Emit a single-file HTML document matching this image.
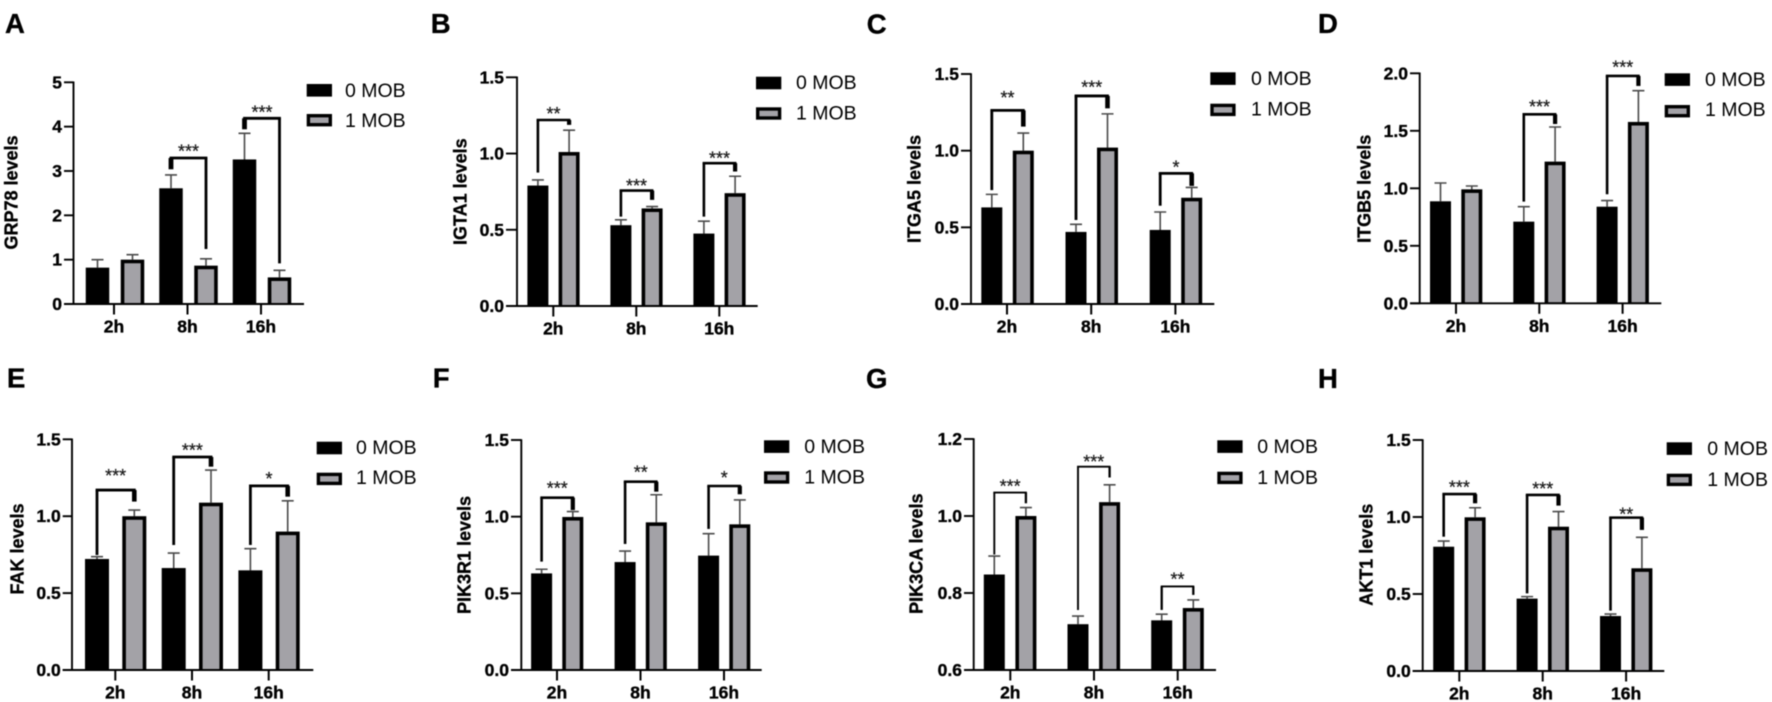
<!DOCTYPE html>
<html lang="en">
<head>
<meta charset="utf-8">
<title>MOB expression levels</title>
<style>
html,body{margin:0;padding:0;background:#fff;}
svg{display:block;filter:blur(0.45px);}
text{font-family:"Liberation Sans",Arial,sans-serif;fill:#000;}
text[font-weight="bold"]{stroke:#000;stroke-width:0.35px;}
text.stars{fill:#1c1c1c;stroke:#1c1c1c;stroke-width:0.25px;}
</style>
</head>
<body>
<svg id="figure" xmlns="http://www.w3.org/2000/svg" width="1772" height="702" viewBox="0 0 1772 702"></svg>
<script>
const categories = ['2h', '8h', '16h'];
const seriesNames = ['0 MOB', '1 MOB'];

const grp78Ticks = ['0', '1', '2', '3', '4', '5'];
const grp78Control = [0.82, 2.61, 3.26];
const grp78Treated = [1.0, 0.865, 0.60];
const grp78ControlErr = [1.0, 2.91, 3.85];
const grp78TreatedErr = [1.113, 1.02, 0.76];
const grp78BracketTop = [null, 3.293, 4.188];
const grp78BracketLeft = [null, 3.038, 3.94];
const grp78BracketRight = [null, 1.24, 0.917];
const grp78StarLevel = [null, 3.496, 4.376];
const grp78Stars = ['', '***', '***'];

const igta1Ticks = ['0.0', '0.5', '1.0', '1.5'];
const igta1Control = [0.79, 0.53, 0.475];
const igta1Treated = [1.01, 0.64, 0.74];
const igta1ControlErr = [0.827, 0.565, 0.556];
const igta1TreatedErr = [1.153, 0.652, 0.851];
const igta1BracketTop = [1.22, 0.757, 0.937];
const igta1BracketLeft = [0.875, 0.586, 0.586];
const igta1BracketRight = [1.188, 0.696, 0.882];
const igta1StarLevel = [1.275, 0.805, 0.983];
const igta1Stars = ['**', '***', '***'];

const itga5Ticks = ['0.0', '0.5', '1.0', '1.5'];
const itga5Control = [0.63, 0.47, 0.483];
const itga5Treated = [1.0, 1.02, 0.693];
const itga5ControlErr = [0.715, 0.52, 0.60];
const itga5TreatedErr = [1.115, 1.24, 0.76];
const itga5BracketTop = [1.263, 1.357, 0.852];
const itga5BracketLeft = [0.743, 0.548, 0.641];
const itga5BracketRight = [1.157, 1.276, 0.77];
const itga5StarLevel = [1.36, 1.428, 0.907];
const itga5Stars = ['**', '***', '*'];

const itgb5Ticks = ['0.0', '0.5', '1.0', '1.5', '2.0'];
const itgb5Control = [0.887, 0.71, 0.84];
const itgb5Treated = [0.991, 1.232, 1.577];
const itgb5ControlErr = [1.046, 0.84, 0.893];
const itgb5TreatedErr = [1.02, 1.533, 1.849];
const itgb5BracketTop = [null, 1.643, 1.977];
const itgb5BracketLeft = [null, 0.884, 0.948];
const itgb5BracketRight = [null, 1.559, 1.89];
const itgb5StarLevel = [null, 1.728, 2.072];
const itgb5Stars = ['', '***', '***'];

const fakTicks = ['0.0', '0.5', '1.0', '1.5'];
const fakControl = [0.722, 0.663, 0.648];
const fakTreated = [1.0, 1.088, 0.9];
const fakControlErr = [0.737, 0.76, 0.789];
const fakTreatedErr = [1.04, 1.30, 1.10];
const fakBracketTop = [1.17, 1.385, 1.197];
const fakBracketLeft = [0.748, 0.813, 0.813];
const fakBracketRight = [1.095, 1.322, 1.127];
const fakStarLevel = [1.279, 1.442, 1.257];
const fakStars = ['***', '***', '*'];

const pik3r1Ticks = ['0.0', '0.5', '1.0', '1.5'];
const pik3r1Control = [0.63, 0.704, 0.746];
const pik3r1Treated = [0.998, 0.963, 0.95];
const pik3r1ControlErr = [0.657, 0.776, 0.889];
const pik3r1TreatedErr = [1.033, 1.143, 1.109];
const pik3r1BracketTop = [1.124, 1.228, 1.2];
const pik3r1BracketLeft = [0.707, 0.822, 0.92];
const pik3r1BracketRight = [1.043, 1.163, 1.146];
const pik3r1StarLevel = [1.2, 1.304, 1.267];
const pik3r1Stars = ['***', '**', '*'];

const pik3caTicks = ['0.6', '0.8', '1.0', '1.2'];
const pik3caControl = [0.848, 0.719, 0.729];
const pik3caTreated = [1.0, 1.036, 0.761];
const pik3caControlErr = [0.896, 0.74, 0.745];
const pik3caTreatedErr = [1.022, 1.081, 0.782];
const pik3caBracketTop = [1.061, 1.128, 0.817];
const pik3caBracketLeft = [0.90, 0.756, 0.756];
const pik3caBracketRight = [1.033, 1.10, 0.795];
const pik3caStarLevel = [1.083, 1.147, 0.842];
const pik3caStars = ['***', '***', '**'];

const akt1Ticks = ['0.0', '0.5', '1.0', '1.5'];
const akt1Control = [0.807, 0.47, 0.357];
const akt1Treated = [0.998, 0.937, 0.667];
const akt1ControlErr = [0.844, 0.483, 0.37];
const akt1TreatedErr = [1.06, 1.035, 0.868];
const akt1BracketTop = [1.149, 1.143, 0.996];
const akt1BracketLeft = [0.872, 0.504, 0.392];
const akt1BracketRight = [1.089, 1.074, 0.916];
const akt1StarLevel = [1.208, 1.197, 1.032];
const akt1Stars = ['***', '***', '**'];

const panels = [
  {letter:'A', title:'GRP78 levels', key:'grp78', ticks:grp78Ticks, control:grp78Control, treated:grp78Treated, controlErr:grp78ControlErr, treatedErr:grp78TreatedErr, top:grp78BracketTop, left:grp78BracketLeft, right:grp78BracketRight, star:grp78StarLevel, stars:grp78Stars,
    lx:5, ly:33, ax:73.5, yT:82.3, yB:304, tickL:64, xEnd:304, cat0:114, step:73.5, off0:-16.5, off1:18.5, bw:23.5, bs:2.8, lb:2, tx:17.3, ty:192.5, sw:306.7, sy0:84, sy1:114, txtX:345, ty0:90, ty1:120},
  {letter:'B', title:'IGTA1 levels', key:'igta1', ticks:igta1Ticks, control:igta1Control, treated:igta1Treated, controlErr:igta1ControlErr, treatedErr:igta1TreatedErr, top:igta1BracketTop, left:igta1BracketLeft, right:igta1BracketRight, star:igta1StarLevel, stars:igta1Stars,
    lx:430.7, ly:33, ax:517, yT:77.3, yB:306, tickL:506, xEnd:757.7, cat0:553.3, step:83, off0:-15.4, off1:15.8, bw:21, bs:2.6, lb:1.6, tx:466.7, ty:191.7, sw:756, sy0:76.7, sy1:107.3, txtX:796, ty0:82.3, ty1:112.7},
  {letter:'C', title:'ITGA5 levels', key:'itga5', ticks:itga5Ticks, control:itga5Control, treated:itga5Treated, controlErr:itga5ControlErr, treatedErr:itga5TreatedErr, top:itga5BracketTop, left:itga5BracketLeft, right:itga5BracketRight, star:itga5StarLevel, stars:itga5Stars,
    lx:866.7, ly:33.5, ax:971, yT:74, yB:304, tickL:961, xEnd:1214.3, cat0:1007, step:84.2, off0:-15.2, off1:16.3, bw:21, bs:2.8, lb:1.8, tx:920.7, ty:189, sw:1210.3, sy0:72.3, sy1:103.7, txtX:1251, ty0:78.3, ty1:108.7},
  {letter:'D', title:'ITGB5 levels', key:'itgb5', ticks:itgb5Ticks, control:itgb5Control, treated:itgb5Treated, controlErr:itgb5ControlErr, treatedErr:itgb5TreatedErr, top:itgb5BracketTop, left:itgb5BracketLeft, right:itgb5BracketRight, star:itgb5StarLevel, stars:itgb5Stars,
    lx:1318, ly:33, ax:1419.7, yT:73.3, yB:303.3, tickL:1410, xEnd:1661.3, cat0:1456, step:83.3, off0:-15.5, off1:15.8, bw:21, bs:2.6, lb:1.6, tx:1370.7, ty:188.8, sw:1664.7, sy0:73.3, sy1:105, txtX:1705, ty0:79, ty1:109.3},
  {letter:'E', title:'FAK levels', key:'fak', ticks:fakTicks, control:fakControl, treated:fakTreated, controlErr:fakControlErr, treatedErr:fakTreatedErr, top:fakBracketTop, left:fakBracketLeft, right:fakBracketRight, star:fakStarLevel, stars:fakStars,
    lx:7, ly:387.7, ax:72, yT:439.3, yB:670, tickL:62.7, xEnd:313.3, cat0:115.3, step:76.7, off0:-18.3, off1:19, bw:24, bs:2.8, lb:1.8, tx:23.3, ty:549, sw:316.7, sy0:441.7, sy1:472.7, txtX:356, ty0:447.3, ty1:477.3},
  {letter:'F', title:'PIK3R1 levels', key:'pik3r1', ticks:pik3r1Ticks, control:pik3r1Control, treated:pik3r1Treated, controlErr:pik3r1ControlErr, treatedErr:pik3r1TreatedErr, top:pik3r1BracketTop, left:pik3r1BracketLeft, right:pik3r1BracketRight, star:pik3r1StarLevel, stars:pik3r1Stars,
    lx:432.7, ly:387.7, ax:521.3, yT:440, yB:670, tickL:511, xEnd:761.7, cat0:557, step:83.5, off0:-15.4, off1:15.8, bw:21, bs:2.6, lb:1.6, tx:470.7, ty:555, sw:764, sy0:440.3, sy1:471.3, txtX:804.3, ty0:446, ty1:476.7},
  {letter:'G', title:'PIK3CA levels', key:'pik3ca', ticks:pik3caTicks, control:pik3caControl, treated:pik3caTreated, controlErr:pik3caControlErr, treatedErr:pik3caTreatedErr, top:pik3caBracketTop, left:pik3caBracketLeft, right:pik3caBracketRight, star:pik3caStarLevel, stars:pik3caStars,
    lx:866, ly:388, ax:973.7, yT:439, yB:670, tickL:964, xEnd:1216, cat0:1010.3, step:83.7, off0:-16, off1:15.6, bw:21, bs:1.9, lb:0.4, tx:922.3, ty:553.7, sw:1217.3, sy0:440.3, sy1:471.7, txtX:1257.3, ty0:446, ty1:477.3},
  {letter:'H', title:'AKT1 levels', key:'akt1', ticks:akt1Ticks, control:akt1Control, treated:akt1Treated, controlErr:akt1ControlErr, treatedErr:akt1TreatedErr, top:akt1BracketTop, left:akt1BracketLeft, right:akt1BracketRight, star:akt1StarLevel, stars:akt1Stars,
    lx:1318, ly:388, ax:1422.7, yT:440, yB:671, tickL:1412.7, xEnd:1664.3, cat0:1459.3, step:83.4, off0:-15.6, off1:15.8, bw:21, bs:2.6, lb:1.6, tx:1372.3, ty:554.7, sw:1666.7, sy0:442.3, sy1:473.7, txtX:1707.3, ty0:448.3, ty1:479}
];

const SVGNS = 'http://www.w3.org/2000/svg';
const GRAY = '#a3a2a7';
const ERR = '#4a4a4a';

function mk(tag, attrs, parent, content) {
  const node = document.createElementNS(SVGNS, tag);
  for (const k in attrs) node.setAttribute(k, attrs[k]);
  if (content !== undefined) node.textContent = content;
  parent.appendChild(node);
  return node;
}

function drawPanel(p, root) {
  const id = p.key;
  const g = mk('g', {}, root);
  
  

  const lo = Number(p.ticks[0]);
  const hi = Number(p.ticks[p.ticks.length - 1]);
  const y = v => p.yB - (v - lo) / (hi - lo) * (p.yB - p.yT);
  const cx = i => p.cat0 + i * p.step;

  const letter = mk('text', {x:p.lx, y:p.ly, 'font-size':27.5, 'font-weight':'bold'}, g, p.letter);
  
  

  const title = mk('text', {x:0, y:0, 'font-size':18, 'font-weight':'bold', 'text-anchor':'middle', transform:'translate(' + p.tx + ' ' + p.ty + ') rotate(-90)'}, g, p.title);
  
  

  // bars
  categories.forEach((cat, i) => {
    const x0 = cx(i) + p.off0;
    const x1 = cx(i) + p.off1;

    const e0 = mk('path', {d:'M' + x0 + ' ' + y(p.control[i]) + 'V' + y(p.controlErr[i]) + 'M' + (x0 - 6) + ' ' + y(p.controlErr[i]) + 'H' + (x0 + 6), stroke:ERR, 'stroke-width':1.6, fill:'none'}, g);
    
    

    const e1 = mk('path', {d:'M' + x1 + ' ' + y(p.treated[i]) + 'V' + y(p.treatedErr[i]) + 'M' + (x1 - 6) + ' ' + y(p.treatedErr[i]) + 'H' + (x1 + 6), stroke:ERR, 'stroke-width':1.6, fill:'none'}, g);
    
    

    const b0 = mk('rect', {x:x0 - p.bw / 2, y:y(p.control[i]), width:p.bw, height:p.yB - y(p.control[i]), fill:'#000'}, g);
    
    

    const s = 3.6;
    const b1 = mk('rect', {x:x1 - p.bw / 2, y:y(p.treated[i]), width:p.bw, height:p.yB - y(p.treated[i]), fill:'#000'}, g);
    
    

    const b1f = mk('rect', {x:x1 - p.bw / 2 + s, y:y(p.treated[i]) + s, width:p.bw - 2 * s, height:Math.max(0, p.yB - y(p.treated[i]) - s - 1), fill:GRAY}, g);
    
    

    if (p.top[i] !== null) {
      const yTop = y(p.top[i]);
      const yL = y(p.left[i]);
      const yR = y(p.right[i]);
      const bg = mk('g', {stroke:'#000', fill:'none'}, g);
      
      
      mk('line', {x1:x0 - p.bs / 2, x2:x1 + p.bs / 2, y1:yTop, y2:yTop, 'stroke-width':p.bs}, bg);
      mk('line', {x1:x0, x2:x0, y1:yTop, y2:yL, 'stroke-width':(yL - yTop < 25 ? p.bs + p.lb : p.bs)}, bg);
      mk('line', {x1:x1, x2:x1, y1:yTop, y2:yR, 'stroke-width':(yR - yTop < 25 ? p.bs + p.lb : p.bs)}, bg);

      const st = mk('text', {x:(x0 + x1) / 2, y:y(p.star[i]) + 8.5, 'font-size':18, 'text-anchor':'middle', class:'stars'}, g, p.stars[i]);
      
      
    }
  });

  // axes
  const yAxis = mk('line', {x1:p.ax, x2:p.ax, y1:p.yT - 0.8, y2:p.yB + 0.8, stroke:'#000', 'stroke-width':1.9}, g);
  
  

  const xAxis = mk('line', {x1:p.tickL, x2:p.xEnd, y1:p.yB, y2:p.yB, stroke:'#000', 'stroke-width':1.9}, g);
  
  

  p.ticks.forEach(label => {
    const v = Number(label);
    const tick = mk('line', {x1:p.tickL, x2:p.ax, y1:y(v), y2:y(v), stroke:'#000', 'stroke-width':1.9}, g);
    
    

    const t = mk('text', {x:p.tickL - 2, y:y(v) + 6, 'font-size':17.5, 'font-weight':'bold', 'text-anchor':'end'}, g, label);
    
    
  });

  categories.forEach((cat, i) => {
    const tick = mk('line', {x1:cx(i), x2:cx(i), y1:p.yB, y2:p.yB + 10.5, stroke:'#000', 'stroke-width':2}, g);
    
    

    const t = mk('text', {x:cx(i), y:p.yB + 28.5, 'font-size':17.5, 'font-weight':'bold', 'text-anchor':'middle'}, g, cat);
    
    
  });

  // legend
  const leg = mk('g', {}, g);
  
  

  const sw0 = mk('rect', {x:p.sw, y:p.sy0, width:25.3, height:12.6, fill:'#000'}, leg);
  
  

  const sw1 = mk('rect', {x:p.sw + 1.7, y:p.sy1 + 1.7, width:21.9, height:9, fill:GRAY, stroke:'#000', 'stroke-width':3.4}, leg);
  
  

  const l0 = mk('text', {x:p.txtX, y:p.ty0 + 6.8, 'font-size':19.5}, leg, seriesNames[0]);
  
  

  const l1 = mk('text', {x:p.txtX, y:p.ty1 + 6.8, 'font-size':19.5}, leg, seriesNames[1]);
  
  
}

const figure = document.getElementById('figure');
panels.forEach(p => drawPanel(p, figure));
</script>
</body>
</html>
